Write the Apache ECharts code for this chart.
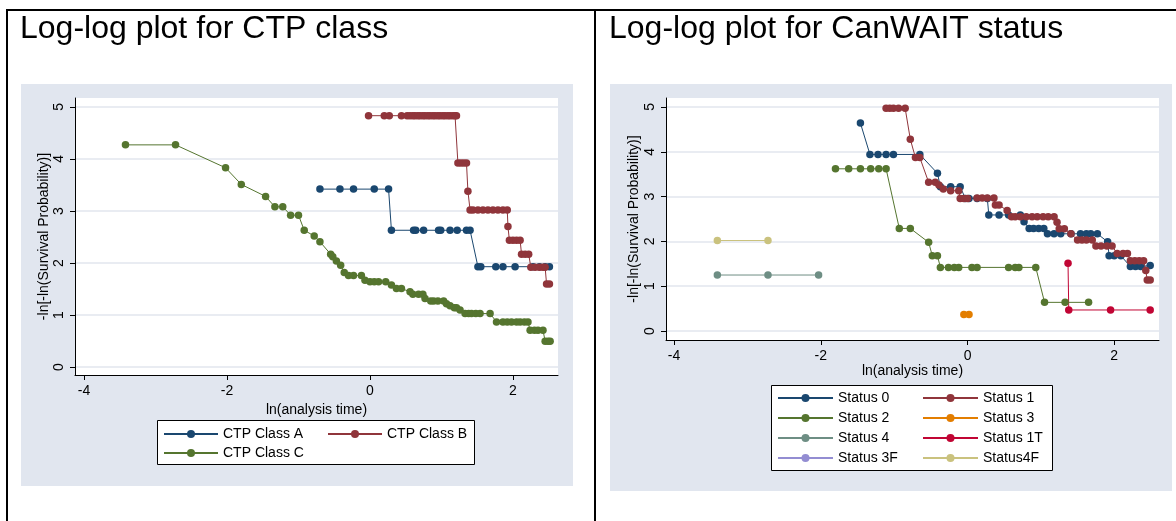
<!DOCTYPE html>
<html>
<head>
<meta charset="utf-8">
<script src="https://cdn.jsdelivr.net/npm/echarts@6/dist/echarts.min.js"></script>
<style>
html,body{margin:0;padding:0;background:#fff;}
#c{width:1176px;height:521px;}
</style>
</head>
<body>
<div id="c"></div>
<script>
// ---------- data (x = ln(analysis time), y = -ln[-ln(S)]) ----------
const xTicks = [-4, -2, 0, 2];
const yTicks = [0, 1, 2, 3, 4, 5];

const ctpClassA = [[-0.70,3.42],[-0.42,3.42],[-0.23,3.42],[0.06,3.42],[0.26,3.42],
  [0.30,2.63],[0.61,2.63],[0.64,2.63],[0.75,2.63],[0.96,2.63],[0.99,2.63],[1.12,2.63],[1.22,2.63],[1.35,2.63],[1.40,2.63],
  [1.51,1.93],[1.55,1.93],[1.76,1.93],[1.86,1.93],[2.03,1.93],[2.28,1.93],[2.37,1.93],[2.45,1.93],[2.51,1.93]];

const ctpClassB = [[-0.02,4.83],[0.20,4.83],[0.27,4.83],[0.44,4.83],[0.52,4.83],[0.56,4.83],[0.60,4.83],[0.63,4.83],
  [0.67,4.83],[0.70,4.83],[0.74,4.83],[0.77,4.83],[0.81,4.83],[0.84,4.83],[0.88,4.83],[0.91,4.83],[0.95,4.83],
  [0.98,4.83],[1.02,4.83],[1.05,4.83],[1.09,4.83],[1.12,4.83],[1.16,4.83],[1.19,4.83],[1.21,4.83],
  [1.23,3.92],[1.27,3.92],[1.31,3.92],[1.35,3.92],[1.37,3.38],
  [1.40,3.02],[1.44,3.02],[1.51,3.02],[1.58,3.02],[1.65,3.02],[1.72,3.02],[1.79,3.02],[1.86,3.02],[1.92,3.02],
  [1.93,2.70],[1.95,2.44],[2.00,2.44],[2.05,2.44],[2.10,2.44],
  [2.12,2.17],[2.17,2.17],[2.22,2.17],
  [2.25,1.92],[2.31,1.92],[2.37,1.92],[2.42,1.92],[2.45,1.92],
  [2.47,1.60],[2.51,1.60]];

const ctpClassC = [[-3.42,4.27],[-2.72,4.27],[-2.02,3.83],[-1.80,3.51],[-1.46,3.28],[-1.33,3.08],[-1.22,3.08],
  [-1.11,2.92],[-1.00,2.92],[-0.92,2.63],[-0.78,2.52],[-0.70,2.41],[-0.55,2.17],[-0.52,2.12],[-0.47,2.04],
  [-0.41,1.96],[-0.36,1.82],[-0.30,1.76],[-0.23,1.76],[-0.12,1.76],[-0.07,1.67],[0.00,1.64],[0.06,1.64],
  [0.12,1.64],[0.22,1.64],[0.30,1.58],[0.37,1.51],[0.44,1.51],[0.56,1.45],[0.60,1.40],[0.68,1.40],[0.74,1.40],
  [0.77,1.32],[0.85,1.27],[0.89,1.27],[0.95,1.27],[1.03,1.27],[1.07,1.22],[1.12,1.18],[1.18,1.14],[1.21,1.14],
  [1.26,1.10],[1.33,1.03],[1.38,1.03],[1.42,1.03],[1.48,1.03],[1.54,1.03],[1.68,1.03],
  [1.77,0.87],[1.86,0.87],[1.92,0.87],[1.98,0.87],[2.05,0.87],[2.10,0.87],[2.16,0.87],[2.21,0.87],
  [2.24,0.71],[2.30,0.71],[2.35,0.71],[2.42,0.71],[2.45,0.50],[2.49,0.50],[2.52,0.50]];

const status0 = [[-1.46,4.64],[-1.33,3.94],[-1.22,3.94],[-1.11,3.94],[-1.01,3.94],[-0.65,3.94],[-0.41,3.52],
  [-0.37,3.22],[-0.23,3.22],[-0.10,3.22],[-0.03,2.96],[0.02,2.96],[0.13,2.96],[0.27,2.96],[0.29,2.59],[0.43,2.59],
  [0.56,2.59],[0.72,2.59],[0.77,2.44],[0.84,2.29],[0.90,2.29],[0.97,2.29],[1.04,2.29],[1.09,2.17],[1.18,2.17],
  [1.27,2.17],[1.41,2.17],[1.54,2.17],[1.62,2.17],[1.68,2.17],[1.77,2.17],[1.91,1.99],[1.93,1.68],[2.00,1.68],
  [2.09,1.68],[2.22,1.44],[2.29,1.44],[2.36,1.44],[2.49,1.46]];

const status1 = [[-1.11,4.97],[-1.06,4.97],[-1.01,4.97],[-0.94,4.97],[-0.85,4.97],[-0.78,4.28],[-0.71,3.87],
  [-0.65,3.87],[-0.53,3.32],[-0.44,3.32],[-0.39,3.26],[-0.33,3.17],[-0.23,3.13],[-0.12,3.13],[-0.10,2.96],
  [-0.05,2.96],[0.00,2.96],[0.13,2.97],[0.20,2.97],[0.27,2.97],[0.36,2.97],[0.38,2.81],[0.43,2.81],[0.54,2.69],
  [0.60,2.55],[0.65,2.55],[0.72,2.55],[0.80,2.55],[0.88,2.55],[0.95,2.55],[1.03,2.55],[1.10,2.55],[1.18,2.55],
  [1.22,2.43],[1.25,2.28],[1.32,2.28],[1.41,2.17],[1.50,2.03],[1.56,2.03],[1.62,2.03],[1.70,2.03],[1.75,1.90],
  [1.82,1.90],[1.90,1.90],[1.97,1.90],[2.04,1.73],[2.12,1.73],[2.18,1.73],[2.22,1.57],[2.28,1.57],[2.34,1.57],
  [2.40,1.57],[2.43,1.35],[2.45,1.14],[2.49,1.14]];

const status2 = [[-1.80,3.62],[-1.62,3.62],[-1.46,3.62],[-1.32,3.62],[-1.21,3.62],[-1.11,3.62],[-0.93,2.29],
  [-0.78,2.29],[-0.53,1.98],[-0.48,1.68],[-0.41,1.68],[-0.37,1.42],[-0.26,1.42],[-0.18,1.42],[-0.12,1.42],
  [0.06,1.42],[0.13,1.42],[0.56,1.42],[0.65,1.42],[0.70,1.42],[0.93,1.42],[1.05,0.64],[1.33,0.64],[1.65,0.64]];

const status3 = [[-0.05,0.37],[0.02,0.37]];
const status4 = [[-3.41,1.25],[-2.72,1.25],[-2.03,1.25]];
const status1T = [[1.37,1.51],[1.38,0.47],[1.95,0.47],[2.49,0.47]];
const status3F = [];
const status4F = [[-3.41,2.02],[-2.72,2.02]];

// ---------- styles ----------
const FONT = 'Liberation Sans, Arial, sans-serif';
const FS = 14;
const C = {navy:'#1a476f', maroon:'#90353b', green:'#55752f', orange:'#e37e00',
           teal:'#6e8e84', cranberry:'#c10534', lavender:'#938dd2', khaki:'#cac27e'};
const PANEL = '#e1e6ef';

function xAxisCfg(gi, min, max, gap) {
  return {
    type:'value', gridIndex:gi, min:min, max:max,
    name:'ln(analysis time)', nameLocation:'middle', nameGap:gap,
    nameTextStyle:{fontFamily:FONT, fontSize:FS, color:'#000'},
    axisLine:{show:true, onZero:false, lineStyle:{color:'#000', width:1}},
    axisTick:{show:true, length:5, customValues:xTicks, lineStyle:{color:'#000'}},
    axisLabel:{customValues:xTicks, margin:9, fontFamily:FONT, fontSize:FS, color:'#000'},
    splitLine:{show:false}
  };
}
function yAxisCfg(gi, min, max, gap) {
  return {
    type:'value', gridIndex:gi, min:min, max:max,
    name:'-ln[-ln(Survival Probability)]', nameLocation:'middle', nameGap:gap, nameRotate:90,
    nameTextStyle:{fontFamily:FONT, fontSize:FS, color:'#000'},
    axisLine:{show:true, onZero:false, lineStyle:{color:'#000', width:1}},
    axisTick:{show:true, length:5, customValues:yTicks, lineStyle:{color:'#000'}},
    axisLabel:{customValues:yTicks, rotate:90, margin:9, fontFamily:FONT, fontSize:FS, color:'#000'},
    splitLine:{show:true, lineStyle:{color:'#e2e6ee', width:1.5}}
  };
}
function ser(name, data, color, gi) {
  return {
    type:'line', name:name, data:data, xAxisIndex:gi, yAxisIndex:gi,
    symbol:'circle', symbolSize:7.5, showSymbol:true, showAllSymbol:true,
    lineStyle:{color:color, width:1}, itemStyle:{color:color},
    animation:false, silent:true, clip:false
  };
}
function legendCol(data, left, top, iw, gap) {
  return {
    data:data, orient:'vertical', left:left, top:top, padding:0,
    itemWidth:iw, itemHeight:10, itemGap:gap, selectedMode:false,
    textStyle:{fontFamily:FONT, fontSize:FS, color:'#000'}
  };
}

const chart = echarts.init(document.getElementById('c'), null, {renderer:'canvas'});
chart.setOption({
  animation:false,
  backgroundColor:'#fff',
  title:[
    {text:'Log-log plot for CTP class', left:20, top:13, padding:0,
     textStyle:{fontFamily:FONT, fontSize:32, fontWeight:'normal', color:'#000'}},
    {text:'Log-log plot for CanWAIT status', left:609, top:13, padding:0,
     textStyle:{fontFamily:FONT, fontSize:32, fontWeight:'normal', color:'#000'}}
  ],
  graphic:[
    {type:'rect', z:-10, shape:{x:21, y:84, width:552, height:402}, style:{fill:PANEL}},
    {type:'rect', z:-10, shape:{x:610, y:84, width:562, height:407}, style:{fill:PANEL}},
    {type:'line', z:50, shape:{x1:6, y1:10, x2:1176, y2:10}, style:{stroke:'#000', lineWidth:2}},
    {type:'line', z:50, shape:{x1:7, y1:9, x2:7, y2:521}, style:{stroke:'#000', lineWidth:2}},
    {type:'line', z:50, shape:{x1:595, y1:9, x2:595, y2:521}, style:{stroke:'#000', lineWidth:2}},
    {type:'rect', z:1, shape:{x:157.5, y:420.5, width:317, height:44}, style:{fill:'#fff', stroke:'#000', lineWidth:1}},
    {type:'rect', z:1, shape:{x:771.5, y:385.5, width:281, height:85}, style:{fill:'#fff', stroke:'#000', lineWidth:1}}
  ],
  grid:[
    {left:75, top:98, width:483, height:277, show:true, backgroundColor:'#fff', borderWidth:0},
    {left:666, top:98, width:493, height:242, show:true, backgroundColor:'#fff', borderWidth:0}
  ],
  xAxis:[xAxisCfg(0, -4.126, 2.63, 25), xAxisCfg(1, -4.11, 2.61, 23)],
  yAxis:[yAxisCfg(0, -0.15, 5.17, 22), yAxisCfg(1, -0.2, 5.2, 25)],
  legend:[
    legendCol(['CTP Class A','CTP Class C'], 163, 427, 54, 5),
    legendCol(['CTP Class B'], 327, 427, 54, 5),
    legendCol(['Status 0','Status 2','Status 4','Status 3F'], 777, 391, 55, 6),
    legendCol(['Status 1','Status 3','Status 1T','Status4F'], 922, 391, 55, 6)
  ],
  series:[
    ser('CTP Class A', ctpClassA, C.navy, 0),
    ser('CTP Class B', ctpClassB, C.maroon, 0),
    ser('CTP Class C', ctpClassC, C.green, 0),
    ser('Status 0', status0, C.navy, 1),
    ser('Status 1', status1, C.maroon, 1),
    ser('Status 2', status2, C.green, 1),
    ser('Status 3', status3, C.orange, 1),
    ser('Status 4', status4, C.teal, 1),
    ser('Status 1T', status1T, C.cranberry, 1),
    ser('Status 3F', status3F, C.lavender, 1),
    ser('Status4F', status4F, C.khaki, 1)
  ]
});
</script>
</body>
</html>
